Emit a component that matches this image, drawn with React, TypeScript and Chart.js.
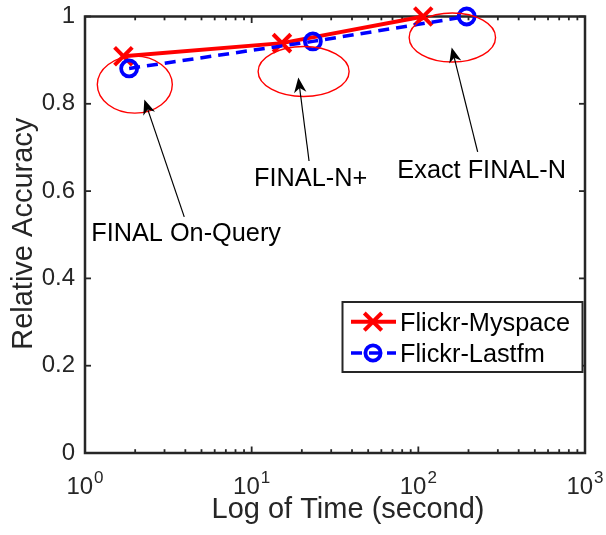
import React, { useEffect, useRef } from "react";
import { Chart, registerables } from "chart.js";

Chart.register(...registerables);

// ---- data ----
const seriesNames = ["Flickr-Myspace", "Flickr-Lastfm"];
const timeMyspace = [1.7, 15.2, 107];
const accMyspace = [0.909, 0.939, 1.0];
const timeLastfm = [1.84, 23.3, 195];
const accLastfm = [0.881, 0.943, 1.0];
const yTicks = [0, 0.2, 0.4, 0.6, 0.8, 1];
const xExponents = [0, 1, 2, 3];
const calloutLabels = ["FINAL On-Query", "FINAL-N+", "Exact FINAL-N"];

// ---- callout layout (data coordinates; radii in px) ----
const callouts = [
  { ellipse: [1.99, 0.844], rx: 37.5, ry: 28.5, tail: [3.94, 0.541], tip: [2.27, 0.81], text: [4.04, 0.485] },
  { ellipse: [20.5, 0.874], rx: 45.5, ry: 25, tail: [22.1, 0.669], tip: [19.05, 0.86], text: [22.6, 0.611] },
  { ellipse: [160, 0.952], rx: 43.2, ry: 24.5, tail: [227, 0.69], tip: [158.5, 0.929], text: [240, 0.631] },
];

const FONT = "'Liberation Sans', Arial, Helvetica, sans-serif";
const AXIS = "#262626";
const RED = "#ff0000";
const BLUE = "#0000ff";

function seg(ctx: CanvasRenderingContext2D, x1: number, y1: number, x2: number, y2: number) {
  ctx.beginPath();
  ctx.moveTo(x1, y1);
  ctx.lineTo(x2, y2);
  ctx.stroke();
}

function drawMarker(ctx: CanvasRenderingContext2D, style: string, cx: number, cy: number, color: string, lw: number) {
  ctx.save();
  ctx.strokeStyle = color;
  ctx.lineWidth = lw;
  ctx.setLineDash([]);
  if (style === "crossRot") {
    const h = 8.7;
    seg(ctx, cx - h, cy - h, cx + h, cy + h);
    seg(ctx, cx - h, cy + h, cx + h, cy - h);
  } else {
    ctx.beginPath();
    ctx.arc(cx, cy, 7.6, 0, Math.PI * 2);
    ctx.stroke();
  }
  ctx.restore();
}

const frame = {
  id: "frame",
  beforeDatasetsDraw(chart: any) {
    const { ctx, chartArea: a, scales } = chart;
    const xs = scales.x;
    const ys = scales.y;
    ctx.save();
    ctx.strokeStyle = AXIS;
    ctx.lineWidth = 1.8;
    // inward y ticks on both sides
    for (const v of yTicks) {
      const py = ys.getPixelForValue(v);
      seg(ctx, a.left, py, a.left + 6, py);
      seg(ctx, a.right, py, a.right - 6, py);
    }
    // inward log ticks, major and minor, top and bottom
    for (const k of xExponents) {
      for (let m = 1; m <= 9; m++) {
        if (k === xExponents[xExponents.length - 1] && m > 1) break;
        const px = xs.getPixelForValue(m * Math.pow(10, k));
        const len = m === 1 ? 6.5 : 3.8;
        seg(ctx, px, a.bottom, px, a.bottom - len);
        seg(ctx, px, a.top, px, a.top + len);
      }
    }
    ctx.lineWidth = 2.5;
    ctx.strokeRect(a.left, a.top, a.right - a.left, a.bottom - a.top);
    ctx.restore();
  },
  afterDatasetsDraw(chart: any) {
    const { ctx, chartArea: a, scales } = chart;
    const xs = scales.x;
    const ys = scales.y;
    const P = (p: number[]) => [xs.getPixelForValue(p[0]), ys.getPixelForValue(p[1])];
    ctx.save();

    // x tick labels as 10^k
    ctx.fillStyle = AXIS;
    ctx.textBaseline = "alphabetic";
    ctx.textAlign = "left";
    for (const k of xExponents) {
      const px = xs.getPixelForValue(Math.pow(10, k));
      ctx.font = `24px ${FONT}`;
      const wb = ctx.measureText("10").width;
      ctx.font = `17px ${FONT}`;
      const we = ctx.measureText(String(k)).width;
      const x0 = px - (wb + we + 1) / 2;
      ctx.font = `24px ${FONT}`;
      ctx.fillText("10", x0, a.bottom + 41);
      ctx.font = `17px ${FONT}`;
      ctx.fillText(String(k), x0 + wb + 1, a.bottom + 30);
    }

    // axis titles
    ctx.font = `29px ${FONT}`;
    ctx.textAlign = "center";
    ctx.fillText("Log of Time (second)", 348, a.bottom + 65);
    ctx.save();
    ctx.translate(31.5, (a.top + a.bottom) / 2 - 1);
    ctx.rotate(-Math.PI / 2);
    ctx.fillText("Relative Accuracy", 0, 0);
    ctx.restore();

    // callouts: ellipse, arrow, label
    callouts.forEach((c, i) => {
      const [ex, ey] = P(c.ellipse);
      ctx.strokeStyle = RED;
      ctx.lineWidth = 1.4;
      ctx.beginPath();
      ctx.ellipse(ex, ey, c.rx, c.ry, 0, 0, Math.PI * 2);
      ctx.stroke();

      const [tx, ty] = P(c.tail);
      const [hx, hy] = P(c.tip);
      const dx = hx - tx;
      const dy = hy - ty;
      const len = Math.hypot(dx, dy);
      const ux = dx / len;
      const uy = dy / len;
      const nx = -uy;
      const ny = ux;
      const L = 15;
      const W = 6.2;
      const notch = 0.7 * L;
      ctx.strokeStyle = "#000";
      ctx.lineWidth = 1.2;
      seg(ctx, tx, ty, hx - ux * notch, hy - uy * notch);
      ctx.fillStyle = "#000";
      ctx.beginPath();
      ctx.moveTo(hx, hy);
      ctx.lineTo(hx - ux * L + nx * W, hy - uy * L + ny * W);
      ctx.lineTo(hx - ux * notch, hy - uy * notch);
      ctx.lineTo(hx - ux * L - nx * W, hy - uy * L - ny * W);
      ctx.closePath();
      ctx.fill();

      const [lx, ly] = P(c.text);
      ctx.font = `25.3px ${FONT}`;
      ctx.textAlign = "center";
      ctx.textBaseline = "alphabetic";
      ctx.fillText(calloutLabels[i], lx, ly);
    });

    // legend
    const bx = 342.5;
    const by = 302;
    const bw = 240;
    const bh = 70;
    ctx.fillStyle = "#fff";
    ctx.fillRect(bx, by, bw, bh);
    ctx.strokeStyle = AXIS;
    ctx.lineWidth = 2;
    ctx.strokeRect(bx, by, bw, bh);
    const rows = [321.7, 353];
    chart.data.datasets.forEach((ds: any, i: number) => {
      const ry = rows[i];
      ctx.save();
      ctx.strokeStyle = ds.borderColor;
      ctx.lineWidth = ds.borderWidth;
      ctx.setLineDash(ds.borderDash || []);
      seg(ctx, 351, ry, 396, ry);
      ctx.restore();
      drawMarker(ctx, ds.pointStyle, 373, ry, ds.pointBorderColor, ds.pointBorderWidth);
      ctx.fillStyle = "#000";
      ctx.font = `25.3px ${FONT}`;
      ctx.textAlign = "left";
      ctx.textBaseline = "alphabetic";
      ctx.fillText(ds.label, 400, ry + 9);
    });

    ctx.restore();
  },
};

export default function App() {
  const ref = useRef<HTMLCanvasElement | null>(null);

  useEffect(() => {
    if (!ref.current) return;
    const chart = new Chart(ref.current, {
      type: "line",
      data: {
        datasets: [
          {
            label: seriesNames[0],
            data: timeMyspace.map((t, i) => ({ x: t, y: accMyspace[i] })),
            borderColor: RED,
            borderWidth: 4,
            pointStyle: "crossRot",
            pointRadius: 12.5,
            pointBorderWidth: 4,
            pointBorderColor: RED,
            pointBackgroundColor: "rgba(0,0,0,0)",
            backgroundColor: "rgba(0,0,0,0)",
            tension: 0,
            clip: false,
            order: 1,
          } as any,
          {
            label: seriesNames[1],
            data: timeLastfm.map((t, i) => ({ x: t, y: accLastfm[i] })),
            borderColor: BLUE,
            borderWidth: 3.5,
            borderDash: [11, 7],
            pointStyle: "circle",
            pointRadius: 8,
            pointBorderWidth: 3.8,
            pointBorderColor: BLUE,
            pointBackgroundColor: "rgba(0,0,0,0)",
            backgroundColor: "rgba(0,0,0,0)",
            tension: 0,
            clip: false,
            order: 0,
          } as any,
        ],
      },
      options: {
        responsive: false,
        devicePixelRatio: 1,
        animation: false,
        events: [],
        layout: { padding: { top: 9, right: 21, left: 0, bottom: 0 } },
        plugins: { legend: { display: false }, tooltip: { enabled: false } },
        scales: {
          x: {
            type: "logarithmic",
            min: 1,
            max: 1000,
            grid: { display: false, drawTicks: false },
            border: { display: false },
            ticks: { display: false },
            afterFit: (s: any) => {
              s.height = 82;
              s.paddingLeft = 0;
              s.paddingRight = 0;
            },
          },
          y: {
            type: "linear",
            min: 0,
            max: 1,
            grid: { display: false, drawTicks: false },
            border: { display: false },
            ticks: {
              stepSize: 0.2,
              padding: 10,
              color: AXIS,
              font: { family: FONT, size: 24 },
              callback: (v: any) => String(Number(Number(v).toFixed(1))),
            },
            afterFit: (s: any) => {
              s.width = 85;
              s.paddingTop = 0;
              s.paddingBottom = 0;
            },
          },
        },
      },
      plugins: [frame],
    });
    return () => chart.destroy();
  }, []);

  return (
    <div style={{ position: "fixed", left: 0, top: 0, width: 606, height: 535, background: "#fff" }}>
      <canvas ref={ref} width={606} height={535} style={{ display: "block" }} />
    </div>
  );
}
